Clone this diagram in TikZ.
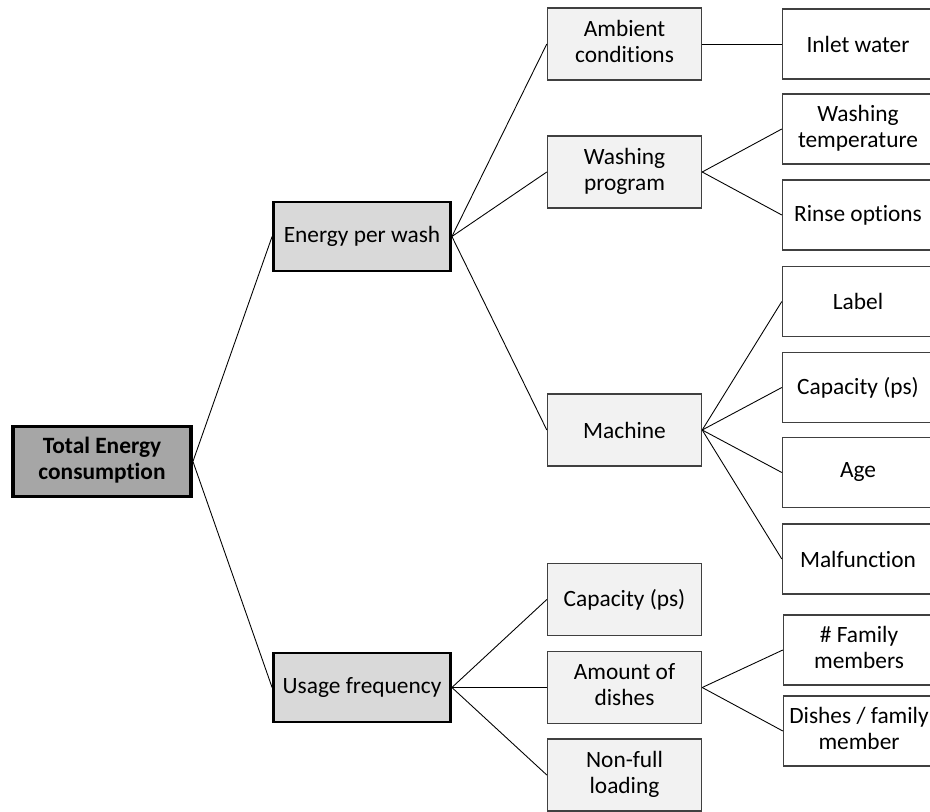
\documentclass[tikz,border=0pt]{standalone}
\usepackage{fontspec}
\setmainfont{Carlito}[Ligatures=NoCommon]
\usetikzlibrary{positioning}
\definecolor{rootgray}{HTML}{A6A6A6}
\definecolor{midgray}{HTML}{D9D9D9}
\definecolor{lightgray}{HTML}{F2F2F2}
\definecolor{edgegray}{HTML}{404040}
\newcommand{\treefont}{\fontsize{13.3}{14.8}\selectfont}
\tikzset{
   root/.style={ rectangle, draw=black, line width=2.2pt, fill=rootgray, minimum width=3.56cm, minimum height=1.4cm, inner sep=0pt, text centered, font=\treefont\bfseries},
   branch/.style={ rectangle, draw=black, line width=1.6pt, fill=midgray, minimum width=3.54cm, minimum height=1.38cm, inner sep=0pt, text centered},
   factor/.style={ rectangle, draw=edgegray, line width=0.8pt, fill=lightgray, minimum width=3.08cm, minimum height=1.44cm, inner sep=0pt, text centered},
   leaf/.style={ rectangle, draw=edgegray, line width=0.8pt, fill=white, minimum width=3.02cm, minimum height=1.4cm, inner sep=0pt, text centered},
   link/.style={ draw=black, line width=0.5pt}
}

\begin{document}
\begin{tikzpicture}[font=\treefont]

  \useasboundingbox (0,0) rectangle (18.6,16.22);
  \clip (0,0) rectangle (18.6,16.22);

  \node[root]   at (2.04,6.99)   (total)   {\begin{tabular}{@{}c@{}}Total Energy\\consumption\end{tabular}};

  \node[branch] at (7.24,11.49)  (perwash) {Energy per wash};
  \node[branch] at (7.24,2.47)   (usage)   {Usage frequency};

  \node[factor] at (12.49,15.34) (ambient)  {\begin{tabular}{@{}c@{}}Ambient\\conditions\end{tabular}};
  \node[factor] at (12.49,12.78) (program)  {\begin{tabular}{@{}c@{}}Washing\\program\end{tabular}};
  \node[factor] at (12.49,7.62)  (machine)  {Machine};
  \node[factor] at (12.49,4.23)  (capusage) {Capacity (ps)};
  \node[factor] at (12.49,2.47)  (amount)   {\begin{tabular}{@{}c@{}}Amount of\\dishes\end{tabular}};
  \node[factor] at (12.49,0.72)  (nonfull)  {\begin{tabular}{@{}c@{}}Non-full\\loading\end{tabular}};

  \node[leaf] at (17.16,15.34) (inlet)    {Inlet water};
  \node[leaf] at (17.16,13.64) (washtemp) {\begin{tabular}{@{}c@{}}Washing\\temperature\end{tabular}};
  \node[leaf] at (17.16,11.92) (rinse)    {Rinse options};
  \node[leaf] at (17.16,10.19) (label)    {Label};
  \node[leaf] at (17.16,8.47)  (capmach)  {Capacity (ps)};
  \node[leaf] at (17.16,6.77)  (age)      {Age};
  \node[leaf] at (17.16,5.04)  (malfunc)  {Malfunction};
  \node[leaf] at (17.18,3.22)  (family)   {\begin{tabular}{@{}c@{}}\# Family\\members\end{tabular}};
  \node[leaf] at (17.18,1.60)  (perfam)   {\begin{tabular}{@{}c@{}}Dishes / family\\member\end{tabular}};

  %%%%%%%%%%%

  \draw[link] (total.east) -- (perwash.west);
  \draw[link] (total.east) -- (usage.west);

  \draw[link] (perwash.east) -- (ambient.west);
  \draw[link] (perwash.east) -- (program.west);
  \draw[link] (perwash.east) -- (machine.west);

  \draw[link] (usage.east) -- (capusage.west);
  \draw[link] (usage.east) -- (amount.west);
  \draw[link] (usage.east) -- (nonfull.west);

  \draw[link] (ambient.east) -- (inlet.west);
  \draw[link] (program.east) -- (washtemp.west);
  \draw[link] (program.east) -- (rinse.west);

  \draw[link] (machine.east) -- (label.west);
  \draw[link] (machine.east) -- (capmach.west);
  \draw[link] (machine.east) -- (age.west);
  \draw[link] (machine.east) -- (malfunc.west);

  \draw[link] (amount.east) -- (family.west);
  \draw[link] (amount.east) -- (perfam.west);

\end{tikzpicture}
\end{document}
